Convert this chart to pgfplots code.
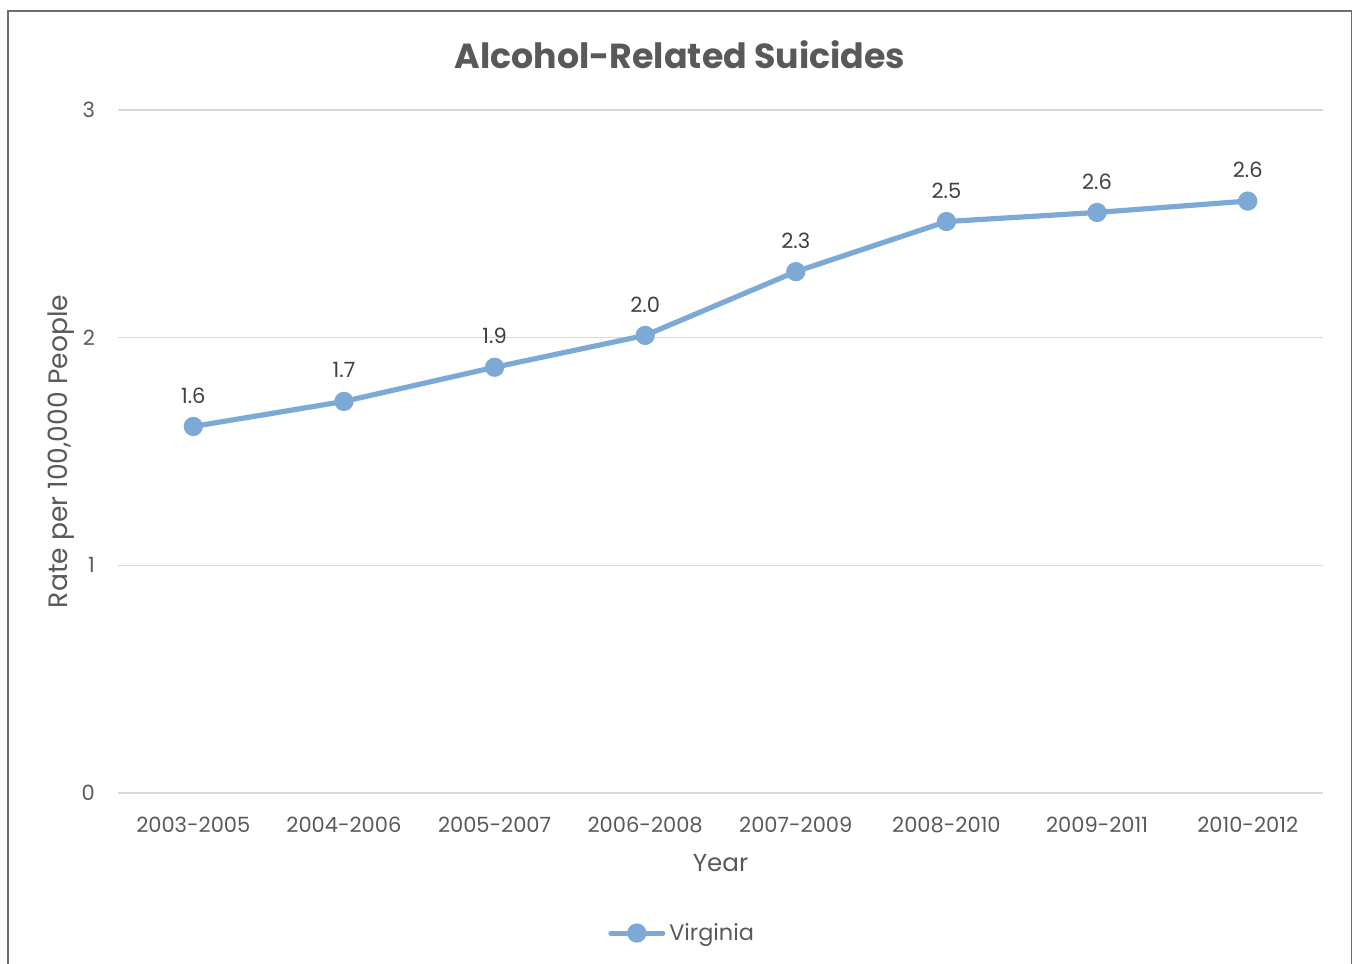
\documentclass[border=0pt]{standalone}
\usepackage{fontspec}
\setmainfont{Poppins}
\usepackage{pgfplots}
\pgfplotsset{compat=1.18}
\definecolor{linec}{RGB}{124,169,213}
\definecolor{gridc}{RGB}{217,217,217}
\definecolor{txt}{RGB}{89,89,89}
\definecolor{dtxt}{RGB}{64,64,64}
\definecolor{framec}{RGB}{110,110,110}
\begin{document}
\begin{tikzpicture}
\path[use as bounding box] (0,0) rectangle (676.5pt,481.5pt);
\draw[framec, line width=0.8pt] (4pt,-1pt) -- (4pt,476pt) -- (675.75pt,476pt) -- (675.75pt,-1pt);
\node[txt, font=\fontsize{17.4}{20}\selectfont\bfseries] at (340pt,454pt) {Alcohol-Related Suicides};
\begin{axis}[
  at={(59pt,85pt)}, anchor=south west,
  width=602.5pt, height=341.5pt, scale only axis,
  xmin=-0.5, xmax=7.5, ymin=0, ymax=3,
  xtick={0,...,7},
  xticklabels={2003-2005,2004-2006,2005-2007,2006-2008,2007-2009,2008-2010,2009-2011,2010-2012},
  ytick={0,1,2,3},
  axis line style={draw=none},
  major tick length=0pt,
  ymajorgrids, grid style={gridc, line width=0.75pt},
  /pgf/number format/assume math mode=true,
  tick label style={txt, font=\fontsize{10.5}{12}\selectfont},
  xticklabel style={yshift=-8.5pt},
  yticklabel style={xshift=-8pt},
  xlabel={Year}, ylabel={Rate per 100,000 People},
  xlabel style={txt, font=\fontsize{12.3}{14}\selectfont, yshift=-4pt},
  ylabel style={txt, font=\fontsize{13.3}{15}\selectfont, yshift=-3pt},
  legend style={at={(0.469,-0.205)}, anchor=center, draw=none, fill=none,
    font=\fontsize{11.2}{13}\selectfont, text=txt},
  legend image code/.code={
    \draw[linec, line width=2.5pt, line cap=round] (0pt,0pt) -- (26pt,0pt);
    \fill[linec] (13pt,0pt) circle (3.5pt);
  },
  clip=false,
]
\addplot[linec, line width=2.6pt, mark=*, mark size=3.5pt, mark options={fill=linec, draw=none},
  nodes near coords, point meta=explicit symbolic,
  every node near coord/.style={dtxt, font=\fontsize{10.5}{12}\selectfont, anchor=center, yshift=15.5pt}]
  table[meta=lab] {
x y lab
0 1.61 1.6
1 1.72 1.7
2 1.87 1.9
3 2.01 2.0
4 2.29 2.3
5 2.51 2.5
6 2.55 2.6
7 2.60 2.6
};
\addlegendentry{Virginia}
\end{axis}
\end{tikzpicture}
\end{document}
